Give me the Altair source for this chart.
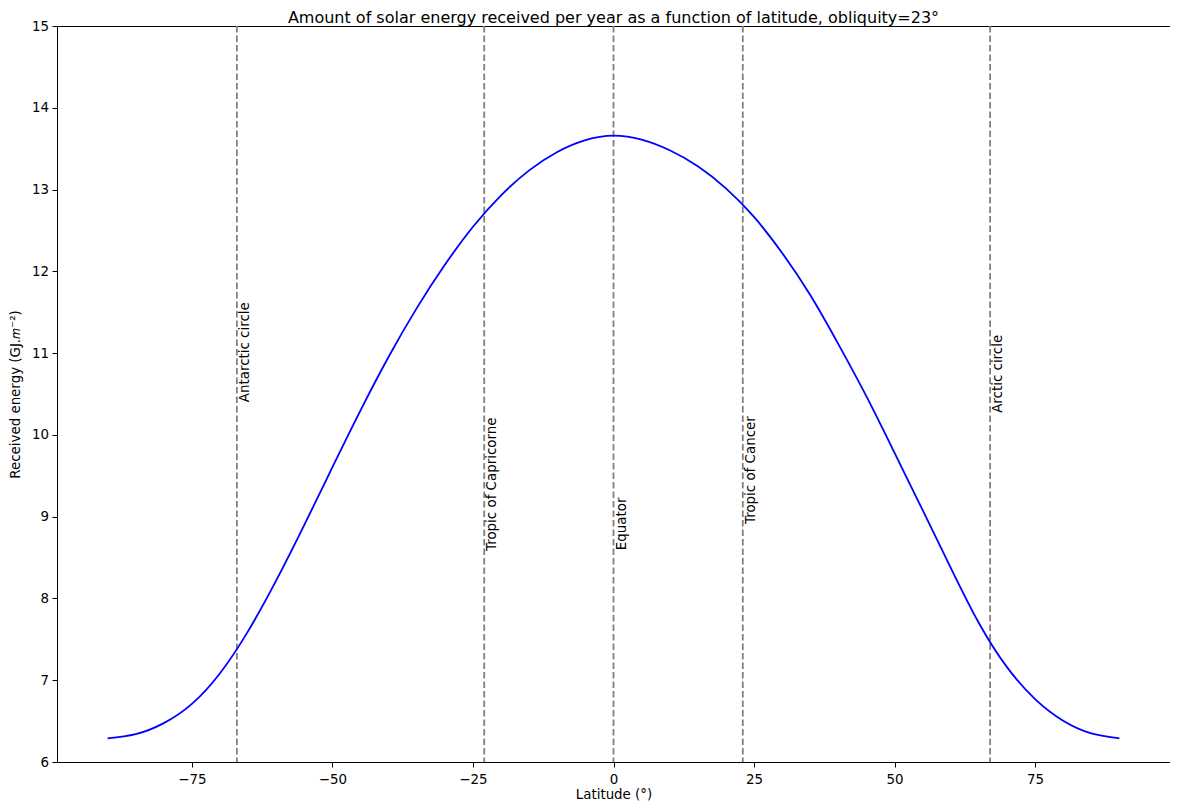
import altair as alt
import pandas as pd

# Curve (latitude in degrees, energy in GJ/m^2)
latitude = [-90, -85, -80, -75, -70, -65, -60, -55, -50, -45, -40, -35, -30, -25, -20, -15, -10, -5,
            0, 5, 10, 15, 20, 25, 30, 35, 40, 45, 50, 55, 60, 65, 70, 75, 80, 85, 90]
energy = [6.29, 6.34, 6.475, 6.71, 7.085, 7.60, 8.22, 8.90, 9.605, 10.30, 10.955, 11.55, 12.08, 12.545, 12.93, 13.235, 13.46, 13.605,
          13.66, 13.61, 13.48, 13.285, 13.015, 12.665, 12.225, 11.71, 11.11, 10.47, 9.78, 9.08, 8.375, 7.70, 7.16, 6.77, 6.505, 6.35, 6.29]

# Reference latitudes
ref_names = ["Antarctic circle", "Tropic of Capricorne", "Equator", "Tropic of Cancer", "Arctic circle"]
ref_lat = [-67, -23, 0, 23, 67]
ref_label_y = [10.40, 8.58, 8.59, 8.91, 10.27]

x_ticks = [-75, -50, -25, 0, 25, 50, 75]
y_ticks = [6, 7, 8, 9, 10, 11, 12, 13, 14, 15]

title_text = ["Amount of solar energy received per year as a function of latitude, obliquity=23°"]

curve_df = pd.DataFrame({"lat": latitude, "energy": energy})
ref_df = pd.DataFrame({"name": ref_names, "lat": ref_lat, "ly": ref_label_y})
title_df = pd.DataFrame({"t": title_text})

FONT = "DejaVu Sans"
FS = 13.4
W, H = 1113, 736

x_scale = alt.Scale(domain=[-99, 99], nice=False, zero=False)
y_scale = alt.Scale(domain=[6, 15], nice=False, zero=False)

curve = alt.Chart(curve_df).mark_line(color="#0000ff", strokeWidth=1.8, interpolate="natural").encode(
    x=alt.X("lat:Q", scale=x_scale,
            axis=alt.Axis(values=x_ticks, title="Latitude (°)", format="d")),
    y=alt.Y("energy:Q", scale=y_scale,
            axis=alt.Axis(values=y_ticks, title="Received energy (GJ.𝑚⁻²)", format="d")),
)

rules = alt.Chart(ref_df).mark_rule(color="#808080", strokeWidth=1.8, strokeDash=[6.5, 3]).encode(
    x=alt.X("lat:Q", scale=x_scale),
)

labels = alt.Chart(ref_df).mark_text(
    angle=270, align="left", baseline="top", fontSize=FS, font=FONT, color="black", dy=1
).encode(
    x=alt.X("lat:Q", scale=x_scale),
    y=alt.Y("ly:Q", scale=y_scale),
    text="name:N",
)

title = alt.Chart(title_df).mark_text(
    align="center", baseline="alphabetic", fontSize=16, font=FONT, color="black"
).encode(
    x=alt.value(W / 2),
    y=alt.value(-3),
    text="t:N",
)

chart = alt.layer(rules, curve, labels, title).properties(
    width=W,
    height=H,
    autosize=alt.AutoSizeParams(type="none"),
    padding={"left": 49, "top": 18, "right": 0, "bottom": 39},
).configure_view(
    stroke="black", strokeWidth=1
).configure_axis(
    labelFont=FONT, labelFontSize=FS, labelColor="black",
    titleFont=FONT, titleFontSize=FS, titleColor="black", titleFontWeight="normal",
    domainColor="black", domainWidth=1, tickColor="black", tickSize=5, tickWidth=1,
    labelPadding=3.5, grid=False,
).configure_axisX(titlePadding=2, labelPadding=5).configure_axisY(titlePadding=9)

chart.save("out.html", embed_options={"renderer": "svg", "actions": False})
